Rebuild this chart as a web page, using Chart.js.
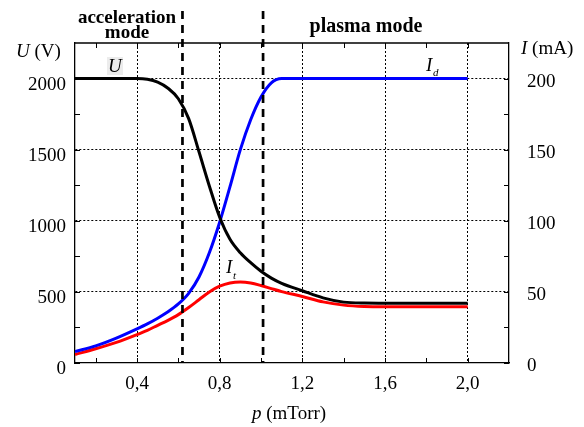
<!DOCTYPE html>
<html>
<head>
<meta charset="utf-8">
<script src="https://cdn.jsdelivr.net/npm/chart.js@4"></script>
<style>
  html, body { margin: 0; padding: 0; background: #fff; }
  #wrap { width: 584px; height: 427px; }
</style>
</head>
<body>
<div id="wrap"><canvas id="modeChart" width="584" height="427"></canvas></div>
<script>
// pressure p (mTorr)
const pressure = [0.1, 0.2, 0.3, 0.4, 0.45, 0.5, 0.55, 0.6, 0.65, 0.7, 0.75, 0.8, 0.85, 0.9, 0.95, 1.0, 1.05, 1.1, 1.2, 1.3, 1.4, 1.5, 1.6, 1.8, 2.0];
// discharge voltage U (V)
const voltageU = [2000, 2000, 2000, 2000, 1995, 1975, 1932, 1858, 1718, 1485, 1245, 1025, 870, 775, 705, 645, 597, 560, 508, 458, 428, 421, 420, 420, 420];
// discharge current I_d (mA)
const currentId = [8, 12, 17.5, 24, 27.5, 31.5, 36, 41.5, 49, 60.5, 77.5, 99, 124, 150, 171, 187, 197, 200, 200, 200, 200, 200, 200, 200, 200];
// target current I_t (mA)
const currentIt = [6, 10, 14.5, 20, 23, 26.5, 30, 34, 39, 44.5, 50, 54, 56.3, 57, 56.3, 54.5, 52.3, 50.2, 46.8, 43, 40.7, 39.7, 39.5, 39.5, 39.5];

// mode boundaries (dashed lines)
const modeBoundaries = [0.62, 1.01];

// ticks
const xTickValues = [0.2, 0.4, 0.6, 0.8, 1.0, 1.2, 1.4, 1.6, 1.8, 2.0];
const xLabelValues = [0.4, 0.8, 1.2, 1.6, 2.0];
const uTickValues = [0, 250, 500, 750, 1000, 1250, 1500, 1750, 2000];
const uLabelValues = [0, 500, 1000, 1500, 2000];
const iTickValues = [0, 25, 50, 75, 100, 125, 150, 175, 200];
const iLabelValues = [0, 50, 100, 150, 200];

const serif = "'Liberation Serif', 'DejaVu Serif', serif";

const isIn = (list, v) => list.some(t => Math.abs(t - v) < 1e-6);
const toPoints = (ys) => pressure.map((p, i) => ({ x: p, y: ys[i] }));

// inward tick marks, top border, dashed boundaries and the texts
const decorPlugin = {
  id: 'decor',
  afterDatasetsDraw(chart) {
    const { ctx, chartArea: a, scales } = chart;
    const tl = 5;
    ctx.save();
    ctx.strokeStyle = '#000';
    ctx.lineWidth = 1.3;
    // top border
    ctx.beginPath();
    ctx.moveTo(a.left, a.top);
    ctx.lineTo(a.right, a.top);
    ctx.stroke();
    ctx.lineWidth = 1;
    ctx.beginPath();
    xTickValues.forEach(v => {
      const px = Math.round(scales.x.getPixelForValue(v)) + 0.5;
      ctx.moveTo(px, a.bottom); ctx.lineTo(px, a.bottom - tl);
      ctx.moveTo(px, a.top); ctx.lineTo(px, a.top + tl);
    });
    uTickValues.forEach(v => {
      const py = Math.round(scales.y.getPixelForValue(v)) + 0.5;
      ctx.moveTo(a.left, py); ctx.lineTo(a.left + tl, py);
    });
    iTickValues.forEach(v => {
      const py = Math.round(scales.y1.getPixelForValue(v)) + 0.5;
      ctx.moveTo(a.right, py); ctx.lineTo(a.right - tl, py);
    });
    ctx.stroke();

    // dashed mode boundaries
    ctx.lineWidth = 2.7;
    ctx.setLineDash([8, 6]);
    modeBoundaries.forEach(b => {
      const px = scales.x.getPixelForValue(b);
      ctx.beginPath();
      ctx.moveTo(px, 11);
      ctx.lineTo(px, a.bottom);
      ctx.stroke();
    });
    ctx.setLineDash([]);

    // texts
    ctx.fillStyle = '#000';
    ctx.textBaseline = 'alphabetic';
    ctx.textAlign = 'center';
    ctx.font = 'bold 19px ' + serif;
    ctx.fillText('acceleration', 127, 23);
    ctx.fillText('mode', 127, 38);
    ctx.font = 'bold 20px ' + serif;
    ctx.fillText('plasma mode', 366, 32);

    // axis titles with italic symbols
    const mixed = (parts, x, y) => {
      let cx = x;
      parts.forEach(([txt, font]) => {
        ctx.font = font;
        ctx.textAlign = 'left';
        ctx.fillText(txt, cx, y);
        cx += ctx.measureText(txt).width;
      });
    };
    mixed([['U', 'italic 19px ' + serif], [' (V)', '19px ' + serif]], 16, 57);
    mixed([['I', 'italic 19px ' + serif], [' (mA)', '19px ' + serif]], 521, 54);
    mixed([['p', 'italic 19px ' + serif], [' (mTorr)', '19px ' + serif]], 252, 419);

    // curve labels
    ctx.fillStyle = '#ececec';
    ctx.fillRect(107, 57, 16, 18);
    ctx.fillStyle = '#000';
    ctx.font = 'italic 19px ' + serif;
    ctx.textAlign = 'left';
    ctx.fillText('U', 108, 72);
    ctx.fillText('I', 426, 71);
    ctx.fillText('I', 226, 273);
    ctx.font = 'italic 11px ' + serif;
    ctx.fillText('d', 433, 76);
    ctx.fillText('t', 233, 279);
    ctx.restore();
  }
};

const ctxMode = document.getElementById('modeChart').getContext('2d');
const modeChart = new Chart(ctxMode, {
  type: 'line',
  data: {
    datasets: [
      { label: 'U', data: toPoints(voltageU), yAxisID: 'y', borderColor: '#000000', borderWidth: 3 },
      { label: 'Id', data: toPoints(currentId), yAxisID: 'y1', borderColor: '#0000ff', borderWidth: 3 },
      { label: 'It', data: toPoints(currentIt), yAxisID: 'y1', borderColor: '#ff0000', borderWidth: 3 }
    ]
  },
  options: {
    responsive: false,
    animation: false,
    events: [],
    layout: { padding: { top: 43, left: 0, right: 0, bottom: 0 } },
    elements: {
      point: { radius: 0 },
      line: { cubicInterpolationMode: 'monotone', fill: false, borderCapStyle: 'butt' }
    },
    plugins: { legend: { display: false }, tooltip: { enabled: false }, title: { display: false } },
    scales: {
      x: {
        type: 'linear',
        position: 'bottom',
        min: 0.1,
        max: 2.2,
        afterBuildTicks: (s) => { s.ticks = xTickValues.map(v => ({ value: v })); },
        afterFit: (s) => { s.height = 64; },
        ticks: {
          autoSkip: false,
          maxRotation: 0,
          padding: 10,
          color: '#000',
          font: { family: serif, size: 19 },
          callback: (v) => isIn(xLabelValues, v) ? v.toFixed(1).replace('.', ',') : ''
        },
        grid: {
          drawTicks: false,
          lineWidth: 1,
          color: (c) => (c.tick && isIn(xLabelValues, c.tick.value)) ? '#000' : 'rgba(0,0,0,0)'
        },
        border: { display: true, color: '#000', width: 1.3, dash: [2, 2] }
      },
      y: {
        position: 'left',
        min: 0,
        max: 2250,
        afterBuildTicks: (s) => { s.ticks = uTickValues.map(v => ({ value: v })); },
        afterFit: (s) => { s.width = 75; },
        ticks: {
          autoSkip: false,
          padding: 9,
          labelOffset: 6,
          color: '#000',
          font: { family: serif, size: 19 },
          callback: (v) => isIn(uLabelValues, v) ? String(v) : ''
        },
        grid: {
          drawTicks: false,
          lineWidth: 1,
          color: (c) => (c.tick && c.tick.value > 0 && isIn(uLabelValues, c.tick.value)) ? '#000' : 'rgba(0,0,0,0)'
        },
        border: { display: true, color: '#000', width: 1.3, dash: [2, 2] }
      },
      y1: {
        position: 'right',
        min: 0,
        max: 225,
        afterBuildTicks: (s) => { s.ticks = iTickValues.map(v => ({ value: v })); },
        afterFit: (s) => { s.width = 75; },
        ticks: {
          autoSkip: false,
          padding: 18,
          labelOffset: 3,
          color: '#000',
          font: { family: serif, size: 19 },
          callback: (v) => isIn(iLabelValues, v) ? String(v) : ''
        },
        grid: { drawTicks: false, drawOnChartArea: false },
        border: { display: true, color: '#000', width: 1.3 }
      }
    }
  },
  plugins: [decorPlugin]
});
</script>
</body>
</html>
